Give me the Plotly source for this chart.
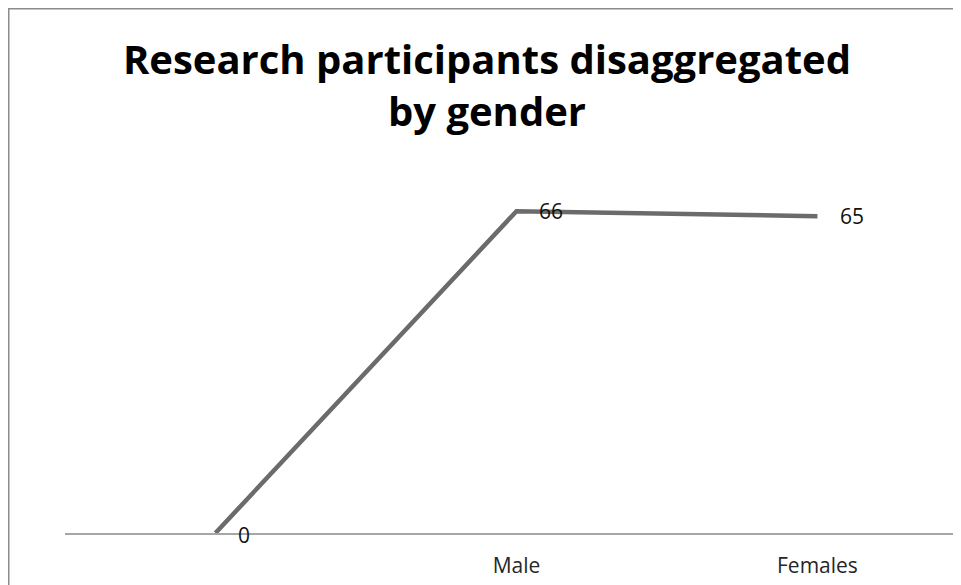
import plotly.graph_objects as go

categories = ["", "Male", "Females"]
values = [0, 66, 65]
labels = ["0", "66", "65"]

xs = list(range(len(categories)))

fig = go.Figure()
fig.add_trace(go.Scatter(
    x=xs, y=values,
    mode="lines",
    line=dict(color="#6b6b6b", width=4.5),
    cliponaxis=False, showlegend=False, hoverinfo="skip",
))

annotations = [
    dict(x=x, y=v, xref="x", yref="y", text=t, showarrow=False,
         xanchor="left", yanchor="middle", xshift=21, yshift=-2 if v == 0 else 0,
         font=dict(family="Open Sans, sans-serif", size=21, color="#111111"))
    for x, v, t in zip(xs, values, labels)
]

fig.update_layout(
    width=953, height=577,
    margin=dict(l=57, r=0, t=135, b=52),
    paper_bgcolor="white", plot_bgcolor="white",
    title=dict(
        text="<b>Research participants disaggregated<br>by gender</b>",
        x=0.5026, xanchor="center", xref="container",
        y=0.885, yanchor="top", yref="container",
        font=dict(family="Open Sans, sans-serif", size=40, color="#000000"),
    ),
    xaxis=dict(
        range=[-0.5, 2.477],
        tickmode="array", tickvals=xs, ticktext=categories,
        showline=True, linecolor="#a6a6a6", linewidth=2,
        showgrid=False, zeroline=False, ticks="",
        ticklabelstandoff=13,
        tickfont=dict(family="Open Sans, sans-serif", size=21, color="#262626"),
    ),
    yaxis=dict(range=[0, 80], visible=False, showgrid=False, zeroline=False),
    annotations=annotations,
    shapes=[dict(type="rect", xref="paper", yref="paper",
                 x0=(0.5 - 57) / 896, x1=1.2, y0=-0.5, y1=(525 - 0.5) / 390,
                 line=dict(color="#8c8c8c", width=2))],
)

fig.write_html("out.html")
